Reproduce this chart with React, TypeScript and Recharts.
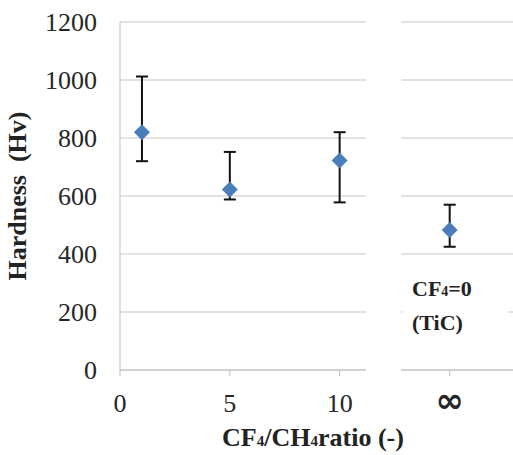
import { ScatterChart, Scatter, XAxis, YAxis, CartesianGrid, ErrorBar } from "recharts";

const ratios = [1, 5, 10];
const hardness = [820, 622, 722];
const hardnessLow = [720, 588, 578];
const hardnessHigh = [1012, 752, 820];

const ticTick = ["∞"];
const ticHardness = [483];
const ticLow = [425];
const ticHigh = [570];

const yTicks = [0, 200, 400, 600, 800, 1000, 1200];
const xTicks = [0, 5, 10];

const FONT = "'Liberation Serif', serif";
const BLUE = "#4A7EBB";
const GRID = "#d9d9d9";
const AXIS = "#bfbfbf";

const mixed = ratios.map((r, i) => ({
  x: r,
  y: hardness[i],
  err: [hardness[i] - hardnessLow[i], hardnessHigh[i] - hardness[i]],
}));

const pure = ticTick.map((_, i) => ({
  x: 1,
  y: ticHardness[i],
  err: [ticHardness[i] - ticLow[i], ticHigh[i] - ticHardness[i]],
}));

const Diamond = (props: any) => {
  const { cx, cy } = props;
  const r = 8;
  return <path d={`M${cx},${cy - r}L${cx + r},${cy}L${cx},${cy + r}L${cx - r},${cy}Z`} fill={BLUE} />;
};

const tickStyle = { fill: "#262626", fontSize: 26, fontFamily: FONT };

export default function App() {
  return (
    <div style={{ position: "absolute", left: 0, top: 0, width: 513, height: 455, background: "#fff", fontFamily: FONT }}>
      <div style={{ position: "absolute", left: 0, top: 0 }}>
        <ScatterChart width={390} height={455} margin={{ top: 22, right: 24, bottom: 45, left: 0 }}>
          <CartesianGrid horizontal vertical={false} stroke={GRID} strokeWidth={1.5} />
          <XAxis
            type="number"
            dataKey="x"
            domain={[0, 11.2]}
            ticks={xTicks}
            allowDataOverflow
            height={40}
            stroke={AXIS}
            tickSize={6}
            tickMargin={18}
            tick={tickStyle}
          />
          <YAxis
            type="number"
            dataKey="y"
            domain={[0, 1200]}
            ticks={yTicks}
            width={120}
            stroke={AXIS}
            tickLine={false}
            tickSize={0}
            tickMargin={23}
            tick={tickStyle}
          />
          <Scatter data={mixed} shape={<Diamond />} isAnimationActive={false}>
            <ErrorBar dataKey="err" direction="y" width={6} stroke="#111" strokeWidth={2} isAnimationActive={false} />
          </Scatter>
        </ScatterChart>
      </div>
      <div style={{ position: "absolute", left: 390, top: 0 }}>
        <ScatterChart width={123} height={455} margin={{ top: 22, right: 0, bottom: 45, left: 11 }}>
          <CartesianGrid horizontal vertical={false} stroke={GRID} strokeWidth={1.5} />
          <XAxis
            type="number"
            dataKey="x"
            domain={[0, 2.3]}
            ticks={[1]}
            tickFormatter={() => ticTick[0]}
            height={40}
            stroke={AXIS}
            tickSize={6}
            tickMargin={12}
            tick={{ ...tickStyle, fontSize: 34, fontWeight: "bold", fontFamily: "'DejaVu Sans', sans-serif" }}
          />
          <YAxis type="number" dataKey="y" domain={[0, 1200]} ticks={yTicks} hide />
          <Scatter data={pure} shape={<Diamond />} isAnimationActive={false}>
            <ErrorBar dataKey="err" direction="y" width={6} stroke="#111" strokeWidth={2} isAnimationActive={false} />
          </Scatter>
        </ScatterChart>
      </div>
      <div
        style={{
          position: "absolute",
          left: 403,
          top: 273,
          width: 96,
          background: "#fff",
          fontFamily: FONT,
          fontWeight: "bold",
          fontSize: 22,
          lineHeight: "31px",
          color: "#222",
          paddingLeft: 9,
        }}
      >
        <div>
          CF<span style={{ fontSize: 14 }}>4</span>=0
        </div>
        <div>(TiC)</div>
      </div>
      <div
        style={{
          position: "absolute",
          left: 18,
          top: 196,
          transform: "translate(-50%, -50%) rotate(-90deg)",
          whiteSpace: "nowrap",
          fontFamily: FONT,
          fontWeight: "bold",
          fontSize: 26,
          color: "#222",
        }}
      >
        Hardness&nbsp; (Hv)
      </div>
      <div
        style={{
          position: "absolute",
          left: 313,
          top: 438,
          transform: "translate(-50%, -50%)",
          whiteSpace: "nowrap",
          fontFamily: FONT,
          fontWeight: "bold",
          fontSize: 26,
          color: "#222",
        }}
      >
        CF<span style={{ fontSize: 15 }}>4</span>/CH<span style={{ fontSize: 15 }}>4</span>ratio (-)
      </div>
    </div>
  );
}
